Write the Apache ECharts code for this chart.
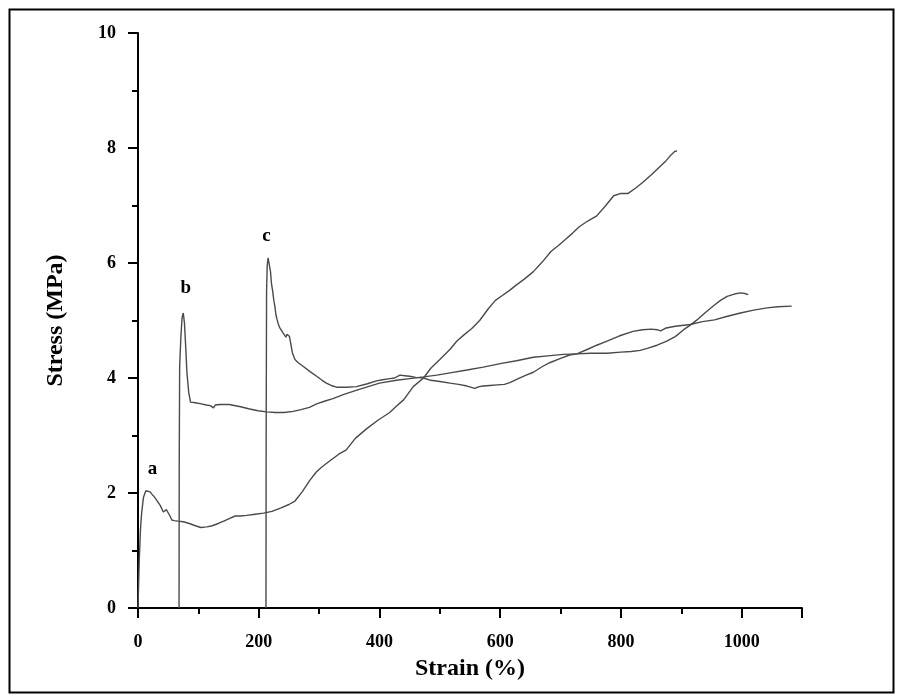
<!DOCTYPE html>
<html>
<head>
<meta charset="utf-8">
<script src="https://cdn.jsdelivr.net/npm/echarts@6/dist/echarts.min.js"></script>
<style>
html,body{margin:0;padding:0;background:#fff;}
#chart{width:899px;height:698px;}
</style>
</head>
<body>
<div id="chart"></div>
<script>
// Stress-strain curves: [strain (%), stress (MPa)]
var curveA = [[0,0],[1,0.4],[2,0.8],[4,1.35],[6,1.65],[9,1.92],[13,2.04],[16,2.07],[20,2.02],[23,1.98],[28,1.92],[32,1.86],[37,1.78],[42,1.67],[45,1.66],[47,1.71],[50,1.69],[53,1.6],[56,1.53],[60,1.52],[66,1.51],[75,1.5],[85,1.47],[95,1.43],[104,1.40],[114,1.41],[123,1.43],[133,1.47],[142,1.51],[152,1.56],[161,1.6],[170,1.6],[180,1.61],[194,1.63],[208,1.65],[222,1.68],[237,1.74],[250,1.8],[260,1.86],[272,2.02],[284,2.21],[295,2.36],[303,2.44],[318,2.56],[332,2.67],[345,2.75],[360,2.95],[379,3.12],[398,3.27],[417,3.4],[427,3.5],[440,3.62],[456,3.85],[473,4.0],[485,4.17],[500,4.32],[517,4.5],[528,4.64],[540,4.75],[553,4.86],[566,5.0],[580,5.2],[592,5.35],[603,5.43],[615,5.52],[627,5.62],[640,5.72],[655,5.85],[670,6.02],[684,6.2],[696,6.3],[707,6.4],[720,6.52],[731,6.63],[745,6.73],[760,6.82],[775,7.0],[788,7.17],[800,7.21],[812,7.21],[824,7.3],[836,7.4],[850,7.53],[864,7.67],[875,7.78],[883,7.88],[889,7.94],[893,7.95]];

var curveB = [[68,0],[68.3,2.5],[69,4.2],[71,4.7],[73,5.05],[75,5.13],[77,4.95],[79,4.55],[81,4.1],[84,3.75],[87,3.58],[90,3.56],[95,3.57],[105,3.55],[113,3.53],[120,3.52],[125,3.48],[128,3.53],[135,3.54],[151,3.54],[170,3.5],[185,3.46],[199,3.43],[213,3.41],[227,3.4],[242,3.4],[257,3.42],[270,3.45],[284,3.49],[296,3.55],[310,3.6],[323,3.64],[340,3.71],[360,3.78],[384,3.86],[400,3.91],[428,3.96],[450,3.99],[473,4.02],[495,4.05],[517,4.09],[545,4.14],[572,4.19],[600,4.25],[627,4.3],[655,4.36],[683,4.39],[705,4.41],[727,4.42],[750,4.43],[777,4.43],[800,4.45],[817,4.46],[832,4.48],[845,4.52],[860,4.57],[876,4.64],[890,4.72],[904,4.84],[915,4.92],[926,5.01],[940,5.14],[955,5.27],[965,5.35],[976,5.42],[988,5.46],[998,5.48],[1005,5.47],[1011,5.45]];

var curveC = [[212,0],[212.3,3],[213,5.5],[214,5.95],[215.5,6.09],[217,6.0],[219.5,5.85],[221,5.65],[223,5.52],[225,5.35],[226.7,5.25],[228.5,5.1],[230.5,5.01],[233,4.92],[235,4.87],[240.5,4.78],[245,4.71],[247,4.76],[249,4.79],[251,4.72],[253,4.6],[256,4.43],[260,4.32],[266,4.26],[274,4.2],[285,4.11],[296,4.03],[305,3.96],[312,3.91],[320,3.87],[329,3.84],[345,3.84],[362,3.85],[380,3.9],[395,3.95],[405,3.97],[417,3.99],[425,4.0],[434,4.05],[442,4.04],[450,4.03],[460,4.01],[473,4.0],[485,3.96],[500,3.94],[517,3.91],[531,3.89],[545,3.86],[558,3.82],[565,3.85],[572,3.86],[583,3.87],[595,3.88],[607,3.89],[616,3.92],[630,3.99],[643,4.05],[655,4.1],[670,4.2],[683,4.27],[700,4.34],[715,4.4],[727,4.42],[745,4.5],[760,4.57],[777,4.64],[797,4.73],[820,4.81],[836,4.84],[850,4.85],[860,4.84],[866,4.82],[875,4.87],[890,4.9],[915,4.93],[935,4.98],[955,5.01],[975,5.07],[998,5.13],[1020,5.18],[1042,5.22],[1060,5.24],[1083,5.25]];

var curveNames = ['a', 'b', 'c'];
var labelAnchors = [[24, 2.42], [79, 5.56], [213, 6.47]];

var xTicks = [0, 200, 400, 600, 800, 1000];
var yTicks = [0, 2, 4, 6, 8, 10];

var FONT = "'Liberation Serif', 'Times New Roman', serif";
var lineColor = '#4a4a4a';

function makeSeries(name, data, anchor) {
  return {
    name: name,
    type: 'line',
    data: data,
    showSymbol: false,
    symbol: 'none',
    animation: false,
    lineStyle: { color: lineColor, width: 1.4 },
    markPoint: {
      symbol: 'circle',
      symbolSize: 0,
      animation: false,
      data: [{ coord: anchor, value: name }],
      label: {
        show: true, position: 'inside', formatter: name,
        fontFamily: FONT, fontWeight: 'bold', fontSize: 19, color: '#000'
      }
    }
  };
}

var chart = echarts.init(document.getElementById('chart'), null, { renderer: 'canvas' });
chart.setOption({
  backgroundColor: '#fff',
  animation: false,
  grid: { left: 138, top: 33, right: 97, bottom: 90, containLabel: false },
  graphic: [{
    type: 'rect', left: 7, top: 7, z: 100, silent: true,
    shape: { width: 884, height: 683 },
    style: { fill: 'none', stroke: '#000', lineWidth: 2 }
  }],
  xAxis: {
    type: 'value', min: 0, max: 1100, interval: 200,
    name: 'Strain (%)', nameLocation: 'middle', nameGap: 49,
    nameTextStyle: { fontFamily: FONT, fontWeight: 'bold', fontSize: 24, color: '#000' },
    axisLine: { show: true, onZero: false, lineStyle: { color: '#000', width: 2 } },
    axisTick: { show: true, inside: false, length: 10, lineStyle: { color: '#000', width: 2 } },
    minorTick: { show: true, splitNumber: 2, length: 6, lineStyle: { color: '#000', width: 2 } },
    splitLine: { show: false },
    minorSplitLine: { show: false },
    axisLabel: {
      margin: 25, fontFamily: FONT, fontWeight: 'bold', fontSize: 18, color: '#000',
      formatter: function (v) { return xTicks.indexOf(v) >= 0 ? String(v) : ''; }
    }
  },
  yAxis: {
    type: 'value', min: 0, max: 10, interval: 2,
    name: 'Stress (MPa)', nameLocation: 'middle', nameGap: 70,
    nameTextStyle: { fontFamily: FONT, fontWeight: 'bold', fontSize: 24, color: '#000' },
    axisLine: { show: true, onZero: false, lineStyle: { color: '#000', width: 2 } },
    axisTick: { show: true, inside: false, length: 10, lineStyle: { color: '#000', width: 2 } },
    minorTick: { show: true, splitNumber: 2, length: 6, lineStyle: { color: '#000', width: 2 } },
    splitLine: { show: false },
    minorSplitLine: { show: false },
    axisLabel: {
      margin: 22, fontFamily: FONT, fontWeight: 'bold', fontSize: 18, color: '#000',
      formatter: function (v) { return yTicks.indexOf(v) >= 0 ? String(v) : ''; }
    }
  },
  series: [
    makeSeries(curveNames[0], curveA, labelAnchors[0]),
    makeSeries(curveNames[1], curveB, labelAnchors[1]),
    makeSeries(curveNames[2], curveC, labelAnchors[2])
  ]
});
</script>
</body>
</html>
